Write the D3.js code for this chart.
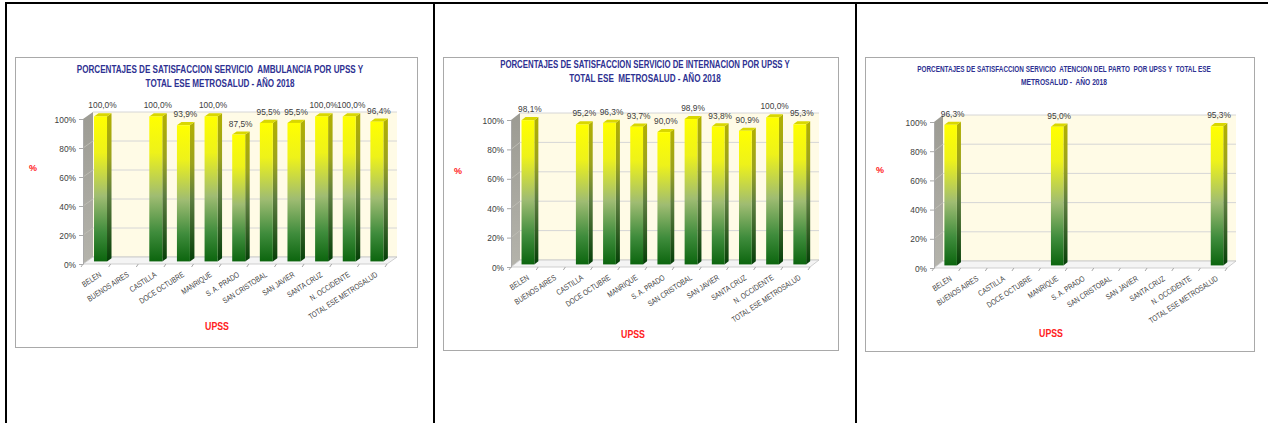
<!DOCTYPE html>
<html><head><meta charset="utf-8">
<script src="https://cdn.jsdelivr.net/npm/d3@7"></script>
<style>
html,body{margin:0;padding:0;background:#fff;}
svg{display:block;}
text{white-space:pre;font-family:"Liberation Sans Narrow","Arial Narrow","Liberation Sans",Arial,sans-serif;}
</style></head><body>
<svg id="c" width="1268" height="423"></svg>
<script>
// ---------- data ----------
const categories = ["BELEN","BUENOS AIRES","CASTILLA","DOCE OCTUBRE","MANRIQUE","S. A. PRADO","SAN CRISTOBAL","SAN JAVIER","SANTA CRUZ","N. OCCIDENTE","TOTAL ESE METROSALUD"];
const ambulanciaValues  = [100.0, null, 100.0, 93.9, 100.0, 87.5, 95.5, 95.5, 100.0, 100.0, 96.4];
const internacionValues = [98.1, null, 95.2, 96.3, 93.7, 90.0, 98.9, 93.8, 90.9, 100.0, 95.3];
const partoValues       = [96.3, null, null, null, 95.0, null, null, null, null, null, 95.3];
const yTickValues = [0, 20, 40, 60, 80, 100];
const ambulanciaTitle  = ["PORCENTAJES DE SATISFACCION SERVICIO  AMBULANCIA POR UPSS Y", "TOTAL ESE METROSALUD - AÑO 2018"];
const internacionTitle = ["PORCENTAJES DE SATISFACCION SERVICIO DE INTERNACION POR UPSS Y", "TOTAL ESE  METROSALUD - AÑO 2018"];
const partoTitle       = ["PORCENTAJES DE SATISFACCION SERVICIO  ATENCION DEL PARTO  POR UPSS Y  TOTAL ESE", "METROSALUD -  AÑO 2018"];
const yAxisLabel = "%";
const xAxisLabel = "UPSS";

// ---------- layout ----------
const layouts = [
  {box:{x:15,y:57,w:402,h:290}, titleX:220, titleY:[73,87], titleSize:10.5, titleLen:[287,149],
   x0:83, x1:387, y0:264, y100:119, dx:10, dy:-7, pct:[33,171], upss:[217,330]},
  {box:{x:443,y:57,w:395,h:293}, titleX:645, titleY:[68,82], titleSize:10.5, titleLen:[290,152],
   x0:511, x1:810, y0:267, y100:120, dx:9, dy:-7, pct:[458,174], upss:[633,338]},
  {box:{x:865,y:57,w:389,h:294}, titleX:1064, titleY:[72,85], titleSize:8.5, titleLen:[294,86],
   x0:934, x1:1227, y0:268, y100:122, dx:9, dy:-7, pct:[880,173], upss:[1051,337]}
];

const svg = d3.select("#c");
const defs = svg.append("defs");
function grad(id, stops){
  const lg = defs.append("linearGradient").attr("id",id).attr("x1",0).attr("y1",0).attr("x2",0).attr("y2",1);
  stops.forEach(s=>lg.append("stop").attr("offset",s[0]).attr("stop-color",s[1]));
}
grad("gFront",[[0,"#FFFF00"],[0.25,"#EEF21A"],[0.55,"#9FBC72"],[0.8,"#3F8C3C"],[1,"#0C650E"]]);
grad("gSide",[[0,"#B2B000"],[0.3,"#9BA21C"],[0.55,"#5E7E40"],[1,"#053F07"]]);
grad("gWall",[[0,"#9C9B93"],[1,"#B4B3AB"]]);

// table borders
svg.append("rect").attr("x",5).attr("y",2).attr("width",1263).attr("height",2).attr("fill","#000");
[5,433,855].forEach(xx=>svg.append("rect").attr("x",xx).attr("y",2).attr("width",2).attr("height",421).attr("fill","#000"));

function drawChart(values, titleLines, L){
  const g = svg.append("g");
  g.append("rect").attr("x",L.box.x+0.5).attr("y",L.box.y+0.5).attr("width",L.box.w).attr("height",L.box.h)
    .attr("fill","#fff").attr("stroke","#A9A9A9");
  titleLines.forEach((t,i)=>{
    const tx = g.append("text").attr("text-anchor","middle")
      .attr("font-size",L.titleSize).attr("font-weight","bold").attr("fill","#2E3192").text(t);
    const w = tx.node().getComputedTextLength();
    tx.attr("transform",`translate(${L.titleX},${L.titleY[i]}) scale(${L.titleLen[i]/w},1)`);
  });

  const x = d3.scaleBand().domain(categories).range([L.x0,L.x1]);
  const y = d3.scaleLinear().domain([0,100]).range([L.y0,L.y100]);
  const dx=L.dx, dy=L.dy;
  const line = d3.line();

  // back wall
  g.append("rect").attr("x",L.x0+dx).attr("y",y(100)+dy).attr("width",L.x1-L.x0).attr("height",y(0)-y(100))
    .attr("fill","#FFFBE6");
  g.selectAll(".grid").data(yTickValues).join("line")
    .attr("x1",L.x0+dx).attr("x2",L.x1+dx).attr("y1",d=>y(d)+dy).attr("y2",d=>y(d)+dy)
    .attr("stroke","#D6D6D6").attr("stroke-width",1);
  // side wall
  g.append("path").attr("d",line([[L.x0,y(0)],[L.x0,y(100)],[L.x0+dx,y(100)+dy],[L.x0+dx,y(0)+dy]])+"Z")
    .attr("fill","url(#gWall)");
  g.selectAll(".sgrid").data(yTickValues.slice(1,-1)).join("line")
    .attr("x1",L.x0).attr("x2",L.x0+dx).attr("y1",d=>y(d)).attr("y2",d=>y(d)+dy)
    .attr("stroke","#BDBCB4");
  // floor
  g.append("path").attr("d",line([[L.x0,y(0)],[L.x1,y(0)],[L.x1+dx,y(0)+dy],[L.x0+dx,y(0)+dy]])+"Z")
    .attr("fill","#F4F4F4").attr("stroke","#C4C4C4").attr("stroke-width",0.8);

  // bars
  const bw = x.bandwidth()*0.47, f=0.37, b=0.45;
  const data = categories.map((c,i)=>({c, v:values[i]})).filter(d=>d.v!==null);
  const bars = g.selectAll(".bar").data(data).join("g");
  const fx = d=>x(d.c)+x.bandwidth()/2-bw/2+f*dx;
  bars.append("path").attr("d",d=>{
      const X=fx(d), T=y(d.v)+f*dy, B=y(0)+f*dy;
      return line([[X+bw,T],[X+bw+b*dx,T+b*dy],[X+bw+b*dx,B+b*dy],[X+bw,B]])+"Z";})
    .attr("fill","url(#gSide)");
  bars.append("path").attr("d",d=>{
      const X=fx(d), T=y(d.v)+f*dy;
      return line([[X,T],[X+b*dx,T+b*dy],[X+bw+b*dx,T+b*dy],[X+bw,T]])+"Z";})
    .attr("fill","#D9D700");
  bars.append("rect").attr("x",fx).attr("y",d=>y(d.v)+f*dy).attr("width",bw)
    .attr("height",d=>y(0)-y(d.v)).attr("fill","url(#gFront)");
  bars.append("text")
    .attr("transform",d=>`translate(${fx(d)+bw/2+2},${y(d.v)+f*dy-8}) scale(0.88,1)`)
    .attr("text-anchor","middle").attr("font-size",9.5).attr("fill","#404040")
    .text(d=>d3.format(".1f")(d.v).replace(".",",")+"%");

  // y axis
  const ax = g.append("g").attr("transform",`translate(${L.x0},0)`)
    .call(d3.axisLeft(y).tickValues(yTickValues).tickFormat(d=>d+"%").tickSize(4).tickSizeOuter(0).tickPadding(3));
  ax.select(".domain").attr("stroke","#A9A9A9");
  ax.selectAll(".tick line").attr("stroke","#A9A9A9");
  ax.selectAll(".tick text").attr("font-size",9.5).attr("fill","#404040")
    .attr("textLength",function(){return this.getComputedTextLength()*0.88;}).attr("lengthAdjust","spacingAndGlyphs")
    .style("font-family",'"Liberation Sans Narrow","Arial Narrow","Liberation Sans",Arial,sans-serif');

  // x ticks
  const bounds = categories.map(c=>x(c)).concat([L.x1]);
  g.selectAll(".xt").data(bounds).join("line")
    .attr("x1",d=>d).attr("x2",d=>d-2).attr("y1",y(0)).attr("y2",y(0)+3)
    .attr("stroke","#A9A9A9");
  // category labels
  g.selectAll(".cl").data(categories).join("text")
    .attr("transform",c=>`translate(${x(c)+x.bandwidth()/2+5},${y(0)+12}) rotate(-33) scale(0.8,1)`)
    .attr("text-anchor","end").attr("font-size",8).attr("fill","#404040").text(c=>c);

  g.append("text").attr("x",L.pct[0]).attr("y",L.pct[1]).attr("text-anchor","middle")
    .attr("font-size",9).attr("font-weight","bold").attr("fill","#FF2020").text(yAxisLabel);
  g.append("text").attr("transform",`translate(${L.upss[0]},${L.upss[1]}) scale(0.88,1)`).attr("text-anchor","middle")
    .attr("font-size",10).attr("font-weight","bold").attr("fill","#FF2020").text(xAxisLabel);
}

drawChart(ambulanciaValues, ambulanciaTitle, layouts[0]);
drawChart(internacionValues, internacionTitle, layouts[1]);
drawChart(partoValues, partoTitle, layouts[2]);
</script>
</body></html>
